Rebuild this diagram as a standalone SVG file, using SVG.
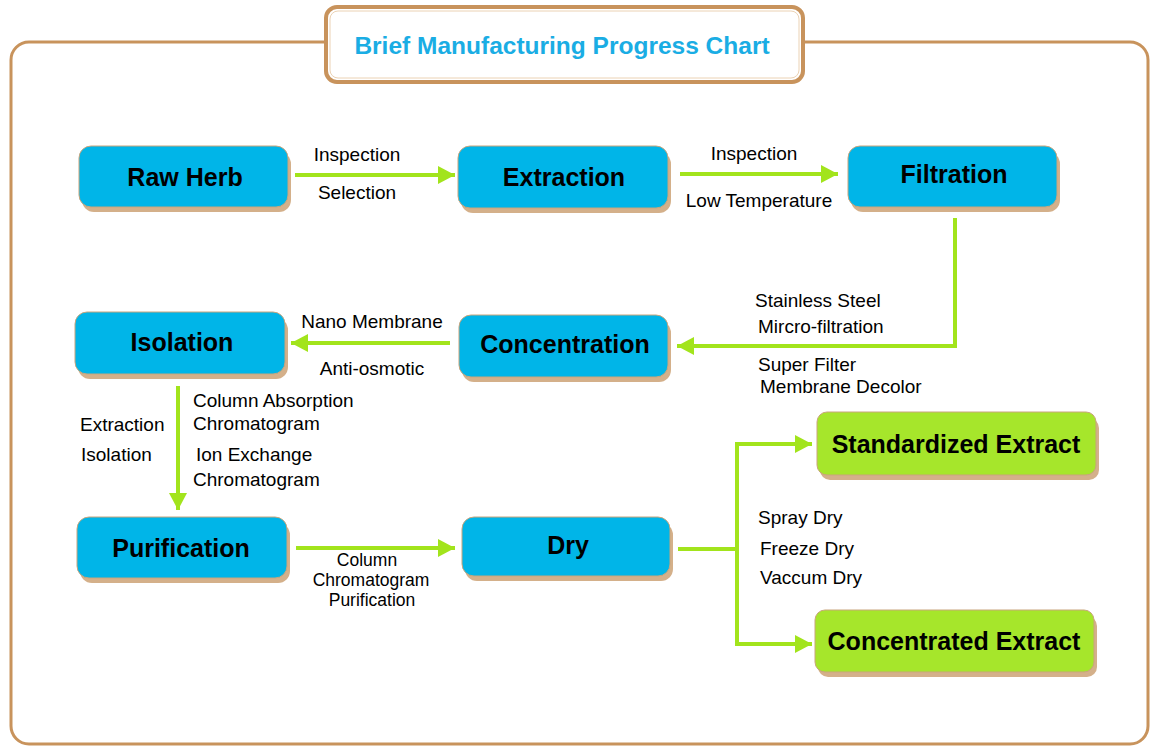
<svg xmlns="http://www.w3.org/2000/svg" width="1151" height="746" viewBox="0 0 1151 746">
<defs>
<style>
.frame{fill:#fff;stroke:#C8935C;stroke-width:3}
.shadow{fill:#D4B08A}
.blue{fill:#00B5E8;stroke:#C9A57C;stroke-width:1}
.green{fill:#A6E62B;stroke:#C9A57C;stroke-width:1}
.nt{font-family:"Liberation Sans",Arial,sans-serif;font-weight:bold;font-size:25px;fill:#000;text-anchor:middle;dominant-baseline:central}
.lb{font-family:"Liberation Sans",Arial,sans-serif;font-size:19px;fill:#000}
.sm{font-size:17.5px}
.mid{text-anchor:middle}
.con{fill:none;stroke:#A2E41C;stroke-width:4}
</style>
<marker id="ah" markerUnits="userSpaceOnUse" markerWidth="18" markerHeight="18" refX="17" refY="9" orient="auto">
<path d="M0,0 L17,9 L0,18 Z" fill="#A2E41C"/>
</marker>
</defs>
<rect x="0" y="0" width="1151" height="746" fill="#fff"/>
<rect class="frame" x="11" y="42" width="1137" height="702" rx="18"/>
<g id="title">
<rect x="326" y="7" width="477" height="75" rx="11" fill="#fff" stroke="#C8935C" stroke-width="4"/>
<rect x="330" y="11" width="469" height="67" rx="8" fill="none" stroke="#EBD2B4" stroke-width="1"/>
<text x="562" y="54" font-family="Liberation Sans,Arial,sans-serif" font-size="24.5" font-weight="bold" fill="#1AADE4" text-anchor="middle">Brief Manufacturing Progress Chart</text>
</g>
<g id="connectors">
<line class="con" x1="295" y1="175" x2="455" y2="175" marker-end="url(#ah)"/>
<line class="con" x1="680" y1="174" x2="838" y2="174" marker-end="url(#ah)"/>
<path class="con" d="M955,218 V346 H677" marker-end="url(#ah)"/>
<line class="con" x1="450" y1="343" x2="291" y2="343" marker-end="url(#ah)"/>
<line class="con" x1="178" y1="386" x2="178" y2="510" marker-end="url(#ah)"/>
<line class="con" x1="296" y1="548" x2="455" y2="548" marker-end="url(#ah)"/>
<path class="con" d="M678,549 H737"/>
<path class="con" d="M737,442 V646"/>
<line class="con" x1="735" y1="444" x2="812" y2="444" marker-end="url(#ah)"/>
<line class="con" x1="735" y1="644" x2="812" y2="644" marker-end="url(#ah)"/>
</g>
<g id="labels">
<text class="lb mid" x="357" y="161">Inspection</text>
<text class="lb mid" x="357" y="199">Selection</text>
<text class="lb mid" x="754" y="160">Inspection</text>
<text class="lb mid" x="759" y="207">Low Temperature</text>
<text class="lb" x="755" y="307">Stainless Steel</text>
<text class="lb" x="758" y="333">Mircro-filtration</text>
<text class="lb" x="758" y="371">Super Filter</text>
<text class="lb" x="760" y="393">Membrane Decolor</text>
<text class="lb mid" x="372" y="328">Nano Membrane</text>
<text class="lb mid" x="372" y="375">Anti-osmotic</text>
<text class="lb" x="80" y="431">Extraction</text>
<text class="lb" x="81" y="461">Isolation</text>
<text class="lb" x="193" y="407">Column Absorption</text>
<text class="lb" x="193" y="430">Chromatogram</text>
<text class="lb" x="196" y="461">Ion Exchange</text>
<text class="lb" x="193" y="486">Chromatogram</text>
<text class="lb sm mid" x="367" y="566">Column</text>
<text class="lb sm mid" x="371" y="586">Chromatogram</text>
<text class="lb sm mid" x="372" y="606">Purification</text>
<text class="lb" x="758" y="524">Spray Dry</text>
<text class="lb" x="760" y="555">Freeze Dry</text>
<text class="lb" x="760" y="584">Vaccum Dry</text>
</g>
<g id="raw-herb">
<rect class="shadow" x="82" y="152" width="209" height="60" rx="12"/>
<rect class="blue" x="79" y="146" width="209" height="61" rx="12"/>
<text class="nt" x="185" y="177">Raw Herb</text>
</g>
<g id="extraction">
<rect class="shadow" x="461" y="152" width="210" height="61" rx="12"/>
<rect class="blue" x="458" y="146" width="210" height="62" rx="12"/>
<text class="nt" x="564" y="177">Extraction</text>
</g>
<g id="filtration">
<rect class="shadow" x="851" y="152" width="209" height="60" rx="12"/>
<rect class="blue" x="848" y="146" width="209" height="61" rx="12"/>
<text class="nt" x="954" y="174">Filtration</text>
</g>
<g id="isolation">
<rect class="shadow" x="78" y="318" width="210" height="61" rx="12"/>
<rect class="blue" x="75" y="312" width="210" height="62" rx="12"/>
<text class="nt" x="182" y="342">Isolation</text>
</g>
<g id="concentration">
<rect class="shadow" x="462" y="321" width="209" height="61" rx="12"/>
<rect class="blue" x="459" y="315" width="209" height="62" rx="12"/>
<text class="nt" x="565" y="344">Concentration</text>
</g>
<g id="purification">
<rect class="shadow" x="80" y="523" width="210" height="60" rx="12"/>
<rect class="blue" x="77" y="517" width="210" height="61" rx="12"/>
<text class="nt" x="181" y="548">Purification</text>
</g>
<g id="dry">
<rect class="shadow" x="465" y="523" width="208" height="58" rx="12"/>
<rect class="blue" x="462" y="517" width="208" height="59" rx="12"/>
<text class="nt" x="568" y="545">Dry</text>
</g>
<g id="standardized-extract">
<rect class="shadow" x="820" y="418" width="279" height="62" rx="10"/>
<rect class="green" x="817" y="412" width="279" height="63" rx="10"/>
<text class="nt" x="956" y="444">Standardized Extract</text>
</g>
<g id="concentrated-extract">
<rect class="shadow" x="818" y="616" width="279" height="61" rx="10"/>
<rect class="green" x="815" y="610" width="279" height="62" rx="10"/>
<text class="nt" x="954" y="641">Concentrated Extract</text>
</g>
</svg>
